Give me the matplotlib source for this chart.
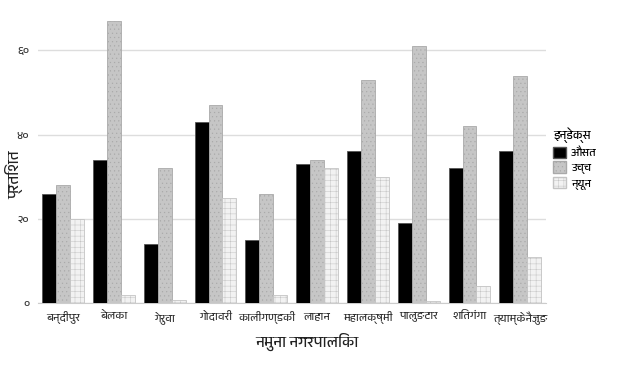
import matplotlib
matplotlib.use("Agg")
import matplotlib.pyplot as plt
from matplotlib import font_manager
from matplotlib.patches import Patch
import numpy as np

# data
cities = ["बन्दीपुर", "बेलका", "गेरुवा", "गोदावरी", "कालीगण्डकी",
          "लाहान", "महालक्ष्मी", "पालुङटार", "शितगंगा", "त्याम्केनैजुङ"]
ausat = [26, 34, 14, 43, 15, 33, 36, 19, 32, 36]
uchcha = [28, 67, 32, 47, 26, 34, 53, 61, 42, 54]
nyun = [20, 2, 0.7, 25, 2, 32, 30, 0.6, 4, 11]
series_names = ["औसत", "उच्च", "न्यून"]
yticks = [0, 20, 40, 60]
ytick_labels = ["०", "२०", "४०", "६०"]

# pick a font that can draw devanagari if one is around
names = sorted({f.name for f in font_manager.fontManager.ttflist})
deva = [n for n in names if "Devanagari" in n or "Lohit" in n or "Mukta" in n or "Hind" in n]
plt.rcParams["font.family"] = deva + ["DejaVu Sans"]
plt.rcParams["hatch.linewidth"] = 0.35

fig, ax = plt.subplots(figsize=(6.18, 3.71), dpi=100)
fig.subplots_adjust(left=0.061, right=0.883, bottom=0.183, top=0.978)

# colours / edges for the three series
face = ["black", "#c6c6c6", "#f2f2f2"]
edge = ["#555555", "#a9a9a9", "#c4c4c4"]
hatch = [None, "....", "+++"]

x = np.arange(len(cities))
w = 0.275
for i, vals in enumerate([ausat, uchcha, nyun]):
    ax.bar(x + (i - 1) * w, vals, w, color=face[i], edgecolor=edge[i],
           linewidth=0.6, hatch=hatch[i], zorder=3)

ax.set_xlim(-0.5, len(cities) - 0.5)
ax.set_ylim(0, 70)
ax.set_yticks(yticks)
ax.set_yticklabels(ytick_labels)
ax.set_xticks(x)
ax.set_xticklabels(cities)
ax.tick_params(length=0, labelsize=8, colors="#333333", pad=6)
ax.yaxis.grid(True, color="#dddddd", linewidth=1, zorder=0)
for s in ["top", "right", "left"]:
    ax.spines[s].set_visible(False)
ax.spines["bottom"].set_color("#cccccc")

ax.set_xlabel("नमुना नगरपालिका", fontsize=11, color="#222222", va="center")
ax.xaxis.set_label_coords(0.53, -0.13)
ax.set_ylabel("प्रतिशत", fontsize=11, color="#222222", va="center")
ax.yaxis.set_label_coords(-0.047, 0.434)

handles = [Patch(facecolor=face[i], edgecolor=edge[i], hatch=hatch[i]) for i in range(3)]
leg = ax.legend(handles, series_names, title="इन्डेक्स", loc="center left",
                bbox_to_anchor=(0.995, 0.49), frameon=False, fontsize=8,
                title_fontsize=8.5, handlelength=1.2, handleheight=1.2,
                handletextpad=0.4, labelspacing=0.3, alignment="left")

fig.savefig("out.png", dpi=100)
